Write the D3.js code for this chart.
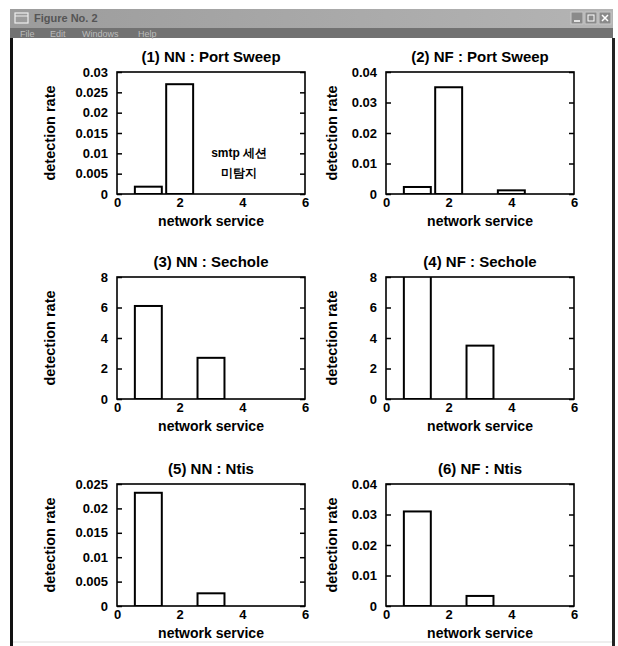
<!DOCTYPE html>
<html>
<head>
<meta charset="utf-8">
<script src="https://cdn.jsdelivr.net/npm/d3@7"></script>
<style>
  body { margin: 0; background: #fff; }
  svg text { font-family: "Liberation Sans", Arial, sans-serif; }
</style>
</head>
<body>
<div id="fig"></div>
<script>
// network services on the x axis
const services = [1, 2, 3, 4, 5];
const xTicks = [0, 2, 4, 6];

// detection rate per service, one array per panel
const nnPortSweep = [0.0018, 0.027, 0, 0, 0];
const nfPortSweep = [0.0023, 0.035, 0, 0.0012, 0];
const nnSechole = [6.1, 0, 2.7, 0, 0];
const nfSechole = [8.6, 0, 3.5, 0, 0];
const nnNtis = [0.0232, 0, 0.0026, 0, 0];
const nfNtis = [0.031, 0, 0.0033, 0, 0];

const titles = ['(1) NN : Port Sweep', '(2) NF : Port Sweep', '(3) NN : Sechole',
  '(4) NF : Sechole', '(5) NN : Ntis', '(6) NF : Ntis'];

const yTicksPs1 = [0, 0.005, 0.01, 0.015, 0.02, 0.025, 0.03];
const yLabelsPs1 = ['0', '0.005', '0.01', '0.015', '0.02', '0.025', '0.03'];
const yTicks04 = [0, 0.01, 0.02, 0.03, 0.04];
const yLabels04 = ['0', '0.01', '0.02', '0.03', '0.04'];
const yTicks8 = [0, 2, 4, 6, 8];
const yLabels8 = ['0', '2', '4', '6', '8'];
const yTicksNt = [0, 0.005, 0.01, 0.015, 0.02, 0.025];
const yLabelsNt = ['0', '0.005', '0.01', '0.015', '0.02', '0.025'];

const note = ['smtp 세션', '미탐지'];

const panels = [
  { title: titles[0], values: nnPortSweep, ticks: yTicksPs1, labels: yLabelsPs1, col: 0, row: 0 },
  { title: titles[1], values: nfPortSweep, ticks: yTicks04, labels: yLabels04, col: 1, row: 0 },
  { title: titles[2], values: nnSechole, ticks: yTicks8, labels: yLabels8, col: 0, row: 1 },
  { title: titles[3], values: nfSechole, ticks: yTicks8, labels: yLabels8, col: 1, row: 1 },
  { title: titles[4], values: nnNtis, ticks: yTicksNt, labels: yLabelsNt, col: 0, row: 2 },
  { title: titles[5], values: nfNtis, ticks: yTicks04, labels: yLabels04, col: 1, row: 2 },
];

const W = 618, H = 646;
const svg = d3.select('#fig').append('svg')
  .attr('width', W)
  .attr('height', H);

// window frame (title bar + menu bar)
const defs = svg.append('defs');
const grad = defs.append('linearGradient').attr('id', 'tb');
grad.append('stop').attr('offset', '0%').attr('stop-color', '#9c9c9c');
grad.append('stop').attr('offset', '100%').attr('stop-color', '#b4b4b4');

svg.append('rect').attr('x', 10).attr('y', 9).attr('width', 603).attr('height', 19)
  .attr('fill', 'url(#tb)');
svg.append('rect').attr('x', 10).attr('y', 28).attr('width', 603).attr('height', 10)
  .attr('fill', '#727272');
svg.append('rect').attr('x', 15).attr('y', 13).attr('width', 13).attr('height', 10)
  .attr('fill', 'none').attr('stroke', '#eee').attr('stroke-width', 1.2);
svg.append('line').attr('x1', 15).attr('x2', 28).attr('y1', 16).attr('y2', 16)
  .attr('stroke', '#eee');
svg.append('text').attr('x', 34).attr('y', 22).attr('font-size', 11).attr('font-weight', 'bold')
  .attr('fill', '#555').text('Figure No. 2');
svg.selectAll('.btn').data([571, 585, 599]).enter().append('rect')
  .attr('class', 'btn')
  .attr('x', d => d).attr('y', 12).attr('width', 12).attr('height', 12)
  .attr('fill', '#8a8a8a').attr('stroke', '#c8c8c8');
svg.append('line').attr('x1', 574).attr('x2', 580).attr('y1', 21).attr('y2', 21).attr('stroke', '#fff').attr('stroke-width', 1.5);
svg.append('rect').attr('x', 588).attr('y', 15).attr('width', 6).attr('height', 6).attr('fill', 'none').attr('stroke', '#fff');
svg.append('path').attr('d', 'M602,15L608,21M608,15L602,21').attr('stroke', '#fff').attr('stroke-width', 1.5);
const menu = [['File', 20], ['Edit', 50], ['Windows', 82], ['Help', 138]];
svg.selectAll('.menu').data(menu).enter().append('text')
  .attr('class', 'menu')
  .attr('x', d => d[1]).attr('y', 37).attr('font-size', 9)
  .attr('fill', '#bcbcbc').text(d => d[0]);

// side borders of the window
svg.append('rect').attr('x', 10).attr('y', 38).attr('width', 3).attr('height', H - 38).attr('fill', '#111');
svg.append('rect').attr('x', 612).attr('y', 38).attr('width', 3).attr('height', H - 38).attr('fill', '#222');
svg.append('line').attr('x1', 13).attr('x2', 612).attr('y1', 642).attr('y2', 642)
  .attr('stroke', '#ddd');

const colX = [117, 386];
const rowY = [72, 277, 484];
const pw = 188, ph = 122;
const barW = 0.86;

panels.forEach((p, i) => {
  const g = svg.append('g')
    .attr('transform', `translate(${colX[p.col]},${rowY[p.row]})`);

  const x = d3.scaleLinear().domain([0, 6]).range([0, pw]);
  const y = d3.scaleLinear().domain([0, p.ticks[p.ticks.length - 1]]).range([ph, 0]);

  defs.append('clipPath').attr('id', 'clip' + i)
    .append('rect').attr('width', pw).attr('height', ph);

  const bars = services.map((s, k) => ({ s, v: p.values[k] })).filter(d => d.v > 0);

  g.append('g').attr('clip-path', `url(#clip${i})`)
    .selectAll('rect').data(bars).enter().append('rect')
    .attr('x', d => x(d.s - barW / 2))
    .attr('width', x(barW) - x(0))
    .attr('y', d => y(d.v))
    .attr('height', d => ph - y(d.v))
    .attr('fill', '#fff')
    .attr('stroke', '#000')
    .attr('stroke-width', 2);

  const fmt = (d, k) => p.labels[k];

  const yl = g.append('g')
    .call(d3.axisLeft(y).tickValues(p.ticks).tickFormat(fmt).tickSizeInner(-5).tickSizeOuter(0).tickPadding(9));
  const yr = g.append('g').attr('transform', `translate(${pw},0)`)
    .call(d3.axisRight(y).tickValues(p.ticks).tickFormat('').tickSizeInner(-5).tickSizeOuter(0));
  const xb = g.append('g').attr('transform', `translate(0,${ph})`)
    .call(d3.axisBottom(x).tickValues(xTicks).tickFormat(d3.format('d')).tickSize(0).tickPadding(4));

  [yl, yr, xb].forEach(a => {
    a.select('.domain').remove();
    a.selectAll('line').attr('stroke', '#000').attr('stroke-width', 1.5);
    a.selectAll('text').attr('font-size', 13).attr('font-weight', 'bold')
      .attr('fill', '#000').attr('font-family', '"Liberation Sans", Arial, sans-serif');
  });

  g.append('rect').attr('width', pw).attr('height', ph)
    .attr('fill', 'none').attr('stroke', '#000').attr('stroke-width', 1.6);

  g.append('text')
    .attr('x', pw / 2).attr('y', -10)
    .attr('text-anchor', 'middle')
    .attr('font-size', 15).attr('font-weight', 'bold')
    .text(p.title);

  g.append('text')
    .attr('transform', `translate(${p.col === 0 ? -62 : -49},${ph / 2}) rotate(-90)`)
    .attr('text-anchor', 'middle')
    .attr('font-size', 14.5).attr('font-weight', 'bold')
    .text('detection rate');

  g.append('text')
    .attr('x', pw / 2).attr('y', ph + 32)
    .attr('text-anchor', 'middle')
    .attr('font-size', 14).attr('font-weight', 'bold')
    .text('network service');

  if (i === 0) {
    g.selectAll('.note').data(note).enter().append('text')
      .attr('class', 'note')
      .attr('x', x(3.9))
      .attr('y', (d, k) => y(0.01) + 4 + k * 20)
      .attr('text-anchor', 'middle')
      .attr('font-size', 12).attr('font-weight', 'bold')
      .attr('font-family', '"Noto Sans CJK KR", sans-serif')
      .text(d => d);
  }
});
</script>
</body>
</html>
